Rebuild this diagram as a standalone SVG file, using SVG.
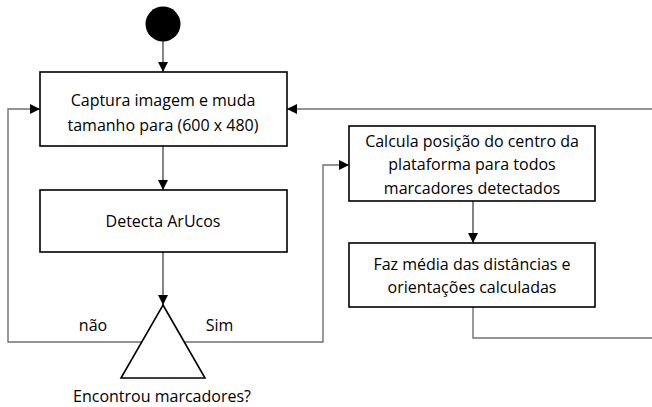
<svg xmlns="http://www.w3.org/2000/svg" width="652" height="407" viewBox="0 0 652 407">
<defs>
<marker id="arr" viewBox="0 0 10 10" refX="10" refY="5" markerWidth="10" markerHeight="10" markerUnits="userSpaceOnUse" orient="auto">
<path d="M0,0 L10,5 L0,10 Z" fill="#000"/>
</marker>
<style>
.box{fill:#fff;stroke:#000;stroke-width:1.6}
.t{font-family:"Open Sans","Liberation Sans",sans-serif;font-size:16px;fill:#000;text-anchor:middle}
.c{fill:none;stroke:#333;stroke-width:1.2}
.g{fill:none;stroke:#707070;stroke-width:1.4}
</style>
</defs>
<rect width="652" height="407" fill="#fff"/>
<g id="connectors">
<line class="c" x1="163" y1="41" x2="163" y2="72" marker-end="url(#arr)"/>
<line class="c" x1="163" y1="146" x2="163" y2="190" marker-end="url(#arr)"/>
<line class="c" x1="163" y1="252" x2="163" y2="305" marker-end="url(#arr)"/>
<polyline class="g" points="142,342 8,342 8,109 40,109" marker-end="url(#arr)"/>
<polyline class="g" points="184,342 323,342 323,165 349,165" marker-end="url(#arr)"/>
<line class="c" x1="473" y1="201" x2="473" y2="243" marker-end="url(#arr)"/>
<polyline class="g" points="473,307 473,338 652,338"/>
<line class="g" x1="652" y1="109" x2="287" y2="109" marker-end="url(#arr)"/>
</g>
<g id="start"><circle cx="163" cy="24" r="17.5" fill="#000"/></g>
<g id="captura">
<rect class="box" x="40" y="72" width="247" height="74"/>
<text class="t" x="163" y="106">Captura imagem e muda</text>
<text class="t" x="163" y="131">tamanho para (600 x 480)</text>
</g>
<g id="detecta">
<rect class="box" x="40" y="190" width="247" height="62"/>
<text class="t" x="163" y="227">Detecta ArUcos</text>
</g>
<g id="decisao">
<polygon points="163,305 205,378 121,378" fill="#fff" stroke="#000" stroke-width="1.6"/>
<text class="t" x="162" y="402">Encontrou marcadores?</text>
<text class="t" x="93" y="331">não</text>
<text class="t" x="219.5" y="331">Sim</text>
</g>
<g id="calcula">
<rect class="box" x="349" y="126" width="246" height="75"/>
<text class="t" x="472" y="146.5">Calcula posição do centro da</text>
<text class="t" x="472" y="170">plataforma para todos</text>
<text class="t" x="472" y="193.5">marcadores detectados</text>
</g>
<g id="media">
<rect class="box" x="349" y="243" width="246" height="64"/>
<text class="t" x="472" y="270">Faz média das distâncias e</text>
<text class="t" x="472" y="293">orientações calculadas</text>
</g>
</svg>
